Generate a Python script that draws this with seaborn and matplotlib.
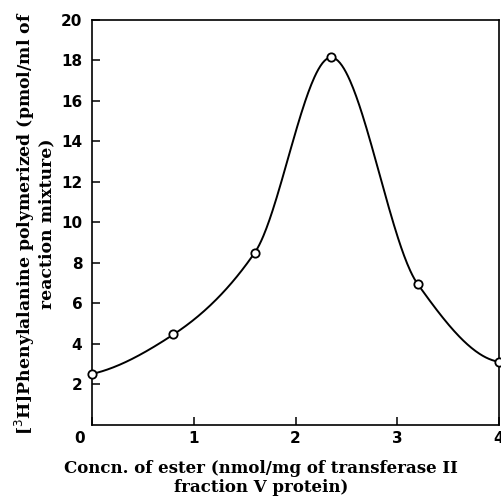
import numpy as np
import pandas as pd
import matplotlib
matplotlib.use("Agg")
import matplotlib.pyplot as plt
import matplotlib.transforms as mtrans
import seaborn as sns

# Data
conc_ester = [0.0, 0.8, 1.6, 2.35, 3.2, 4.0]
phe_polymerized = [2.5, 4.45, 8.5, 18.15, 6.95, 3.1]
x_ticks = [0, 1, 2, 3, 4]
x_ticklabels = ["0", "1", "2", "3", "4"]
y_ticks = [2, 4, 6, 8, 10, 12, 14, 16, 18, 20]
y_ticklabels = ["2", "4", "6", "8", "10", "12", "14", "16", "18", "20"]


def pchip(x, y, xs):
    x = np.asarray(x, float)
    y = np.asarray(y, float)
    h = np.diff(x)
    d = np.diff(y) / h
    n = len(x)
    m = np.zeros(n)
    for k in range(1, n - 1):
        if d[k - 1] * d[k] > 0:
            w1 = 2 * h[k] + h[k - 1]
            w2 = h[k] + 2 * h[k - 1]
            m[k] = (w1 + w2) / (w1 / d[k - 1] + w2 / d[k])
        else:
            m[k] = 0.0

    def end(h0, h1, d0, d1):
        v = ((2 * h0 + h1) * d0 - h0 * d1) / (h0 + h1)
        if np.sign(v) != np.sign(d0):
            v = 0.0
        elif np.sign(d0) != np.sign(d1) and abs(v) > abs(3 * d0):
            v = 3 * d0
        return v

    m[0] = end(h[0], h[1], d[0], d[1])
    m[-1] = end(h[-1], h[-2], d[-1], d[-2])
    idx = np.clip(np.searchsorted(x, xs) - 1, 0, n - 2)
    t = (xs - x[idx]) / h[idx]
    h00 = 2 * t**3 - 3 * t**2 + 1
    h10 = t**3 - 2 * t**2 + t
    h01 = -2 * t**3 + 3 * t**2
    h11 = t**3 - t**2
    return (h00 * y[idx] + h10 * h[idx] * m[idx] + h01 * y[idx + 1]
            + h11 * h[idx] * m[idx + 1])


sns.set_style("ticks")
plt.rcParams["font.family"] = ["DejaVu Serif"]

fig = plt.figure(figsize=(5.01, 5.04), dpi=100)
ax = fig.add_axes([92 / 501, (504 - 424.5) / 504, (499 - 92) / 501, (424.5 - 20) / 504])

xs = np.linspace(min(conc_ester), max(conc_ester), 400)
curve = pd.DataFrame({"x": xs, "y": pchip(conc_ester, phe_polymerized, xs)})
pts = pd.DataFrame({"x": conc_ester, "y": phe_polymerized})

sns.lineplot(data=curve, x="x", y="y", ax=ax, color="black", linewidth=1.4,
             estimator=None, sort=False)
sns.scatterplot(data=pts, x="x", y="y", ax=ax, marker="o", s=36,
                facecolor="white", edgecolor="black", linewidth=1.3,
                zorder=5, clip_on=False)

ax.set_xlim(0, 4)
ax.set_ylim(0, 20)
ax.set_xticks(x_ticks)
ax.set_xticklabels(x_ticklabels)
ax.set_yticks(y_ticks)
ax.set_yticklabels(y_ticklabels)

for sp in ax.spines.values():
    sp.set_visible(True)
    sp.set_linewidth(1.2)
    sp.set_color("black")

ax.tick_params(axis="both", direction="in", length=6, width=1.1, color="black",
               labelsize=11, labelcolor="black")
ax.tick_params(axis="y", pad=7)
ax.tick_params(axis="x", pad=5)
for lab in ax.get_xticklabels() + ax.get_yticklabels():
    lab.set_fontfamily("DejaVu Sans")
    lab.set_fontweight("bold")

# shift the origin label to the left, as in the reference
lab0 = ax.get_xticklabels()[0]
lab0.set_transform(lab0.get_transform() +
                   mtrans.ScaledTranslation(-12 / 100, 0, fig.dpi_scale_trans))

ax.set_xlabel("Concn. of ester (nmol/mg of transferase II\nfraction V protein)",
              fontsize=12, fontweight="bold", color="black",
              linespacing=1.15)
ax.xaxis.set_label_coords(0.415, -0.088)
ax.xaxis.label.set_verticalalignment("top")

ax.set_ylabel("[$^3$H]Phenylalanine polymerized (pmol/ml of\nreaction mixture)",
              fontsize=12.4, fontweight="bold", color="black",
              linespacing=1.05)
ax.yaxis.set_label_coords(-0.142, 0.497)
ax.yaxis.label.set_verticalalignment("center")
ax.yaxis.label.set_horizontalalignment("center")

fig.savefig("out.png", dpi=100)
